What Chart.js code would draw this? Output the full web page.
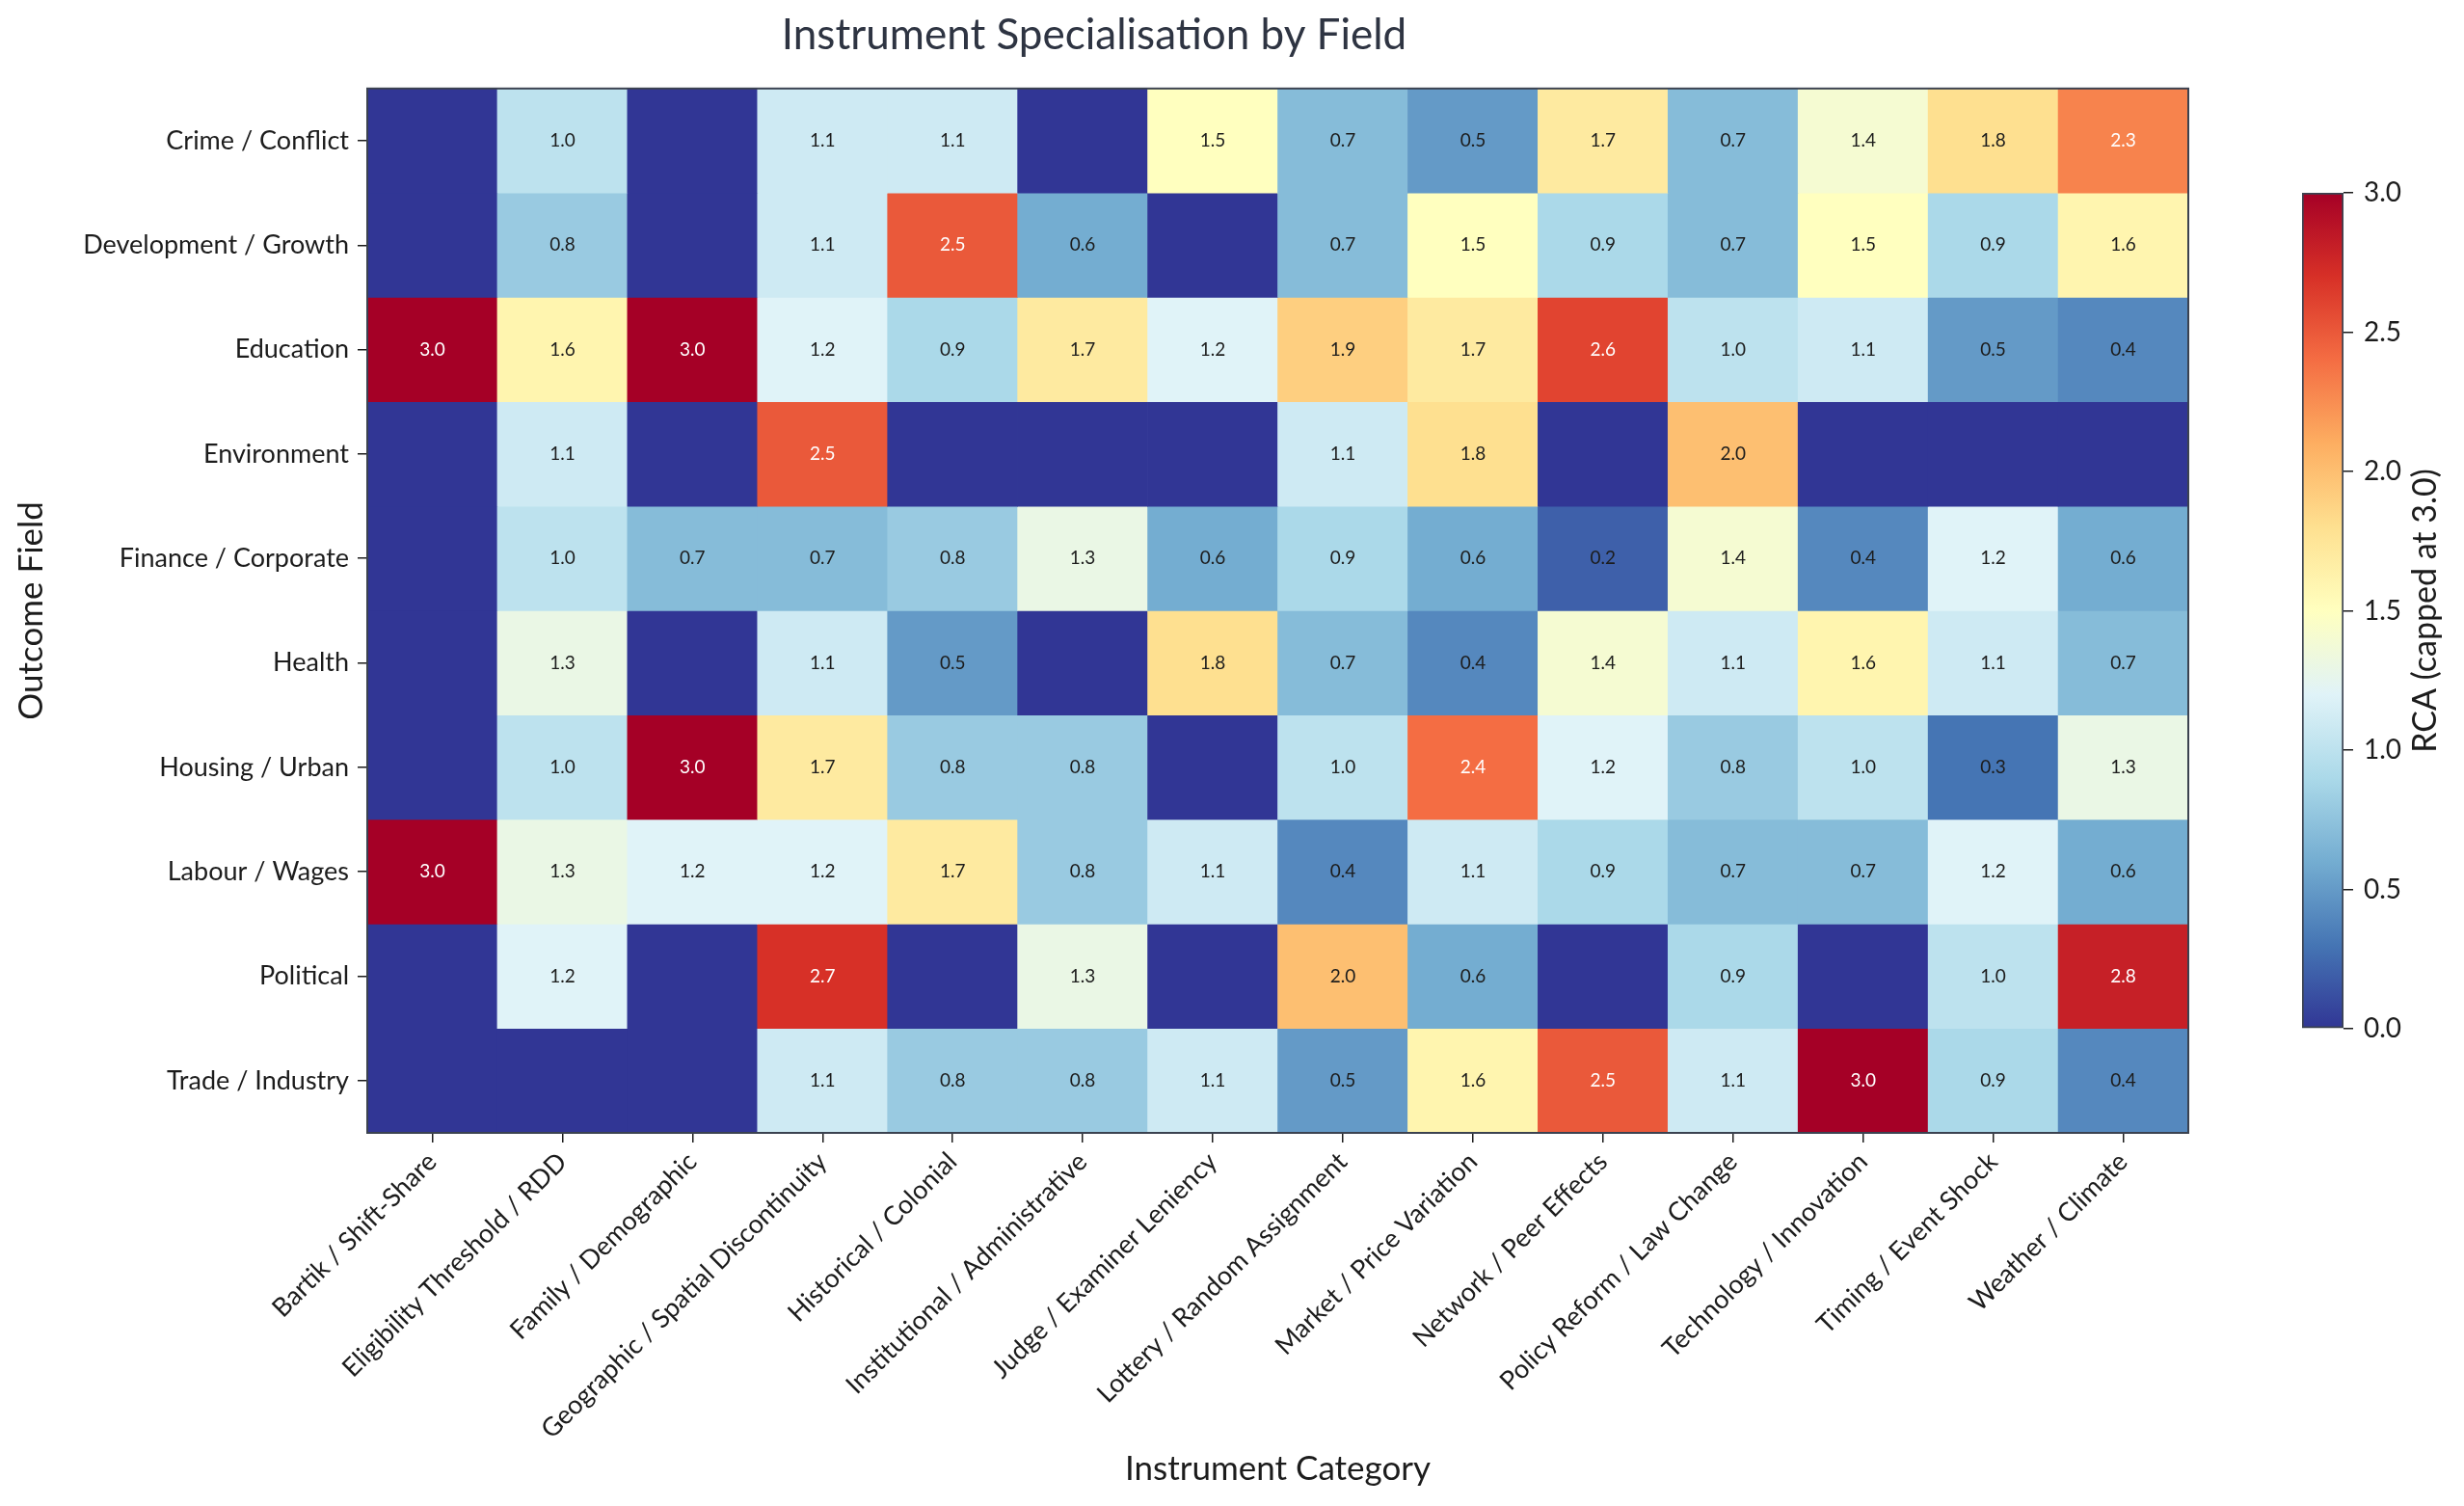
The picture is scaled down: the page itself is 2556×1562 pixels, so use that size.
<!DOCTYPE html>
<html>
<head>
<meta charset="utf-8">
<title>Instrument Specialisation by Field</title>
<script src="https://cdn.jsdelivr.net/npm/chart.js@4.4.1/dist/chart.umd.min.js"></script>
<style>
  html, body { margin: 0; padding: 0; background: #fff; }
  #wrap { position: relative; width: 2556px; height: 1562px; }
  #heatmap { position: absolute; left: 0; top: 0; }
  #colorbar { position: absolute; left: 2330px; top: 150px; }
</style>
</head>
<body>
<div id="wrap">
  <canvas id="heatmap" width="2556" height="1562"></canvas>
  <canvas id="colorbar" width="226" height="970"></canvas>
</div>
<script>
// columns (x) and rows (y)
const instruments = [
  'Bartik / Shift-Share', 'Eligibility Threshold / RDD', 'Family / Demographic',
  'Geographic / Spatial Discontinuity', 'Historical / Colonial', 'Institutional / Administrative',
  'Judge / Examiner Leniency', 'Lottery / Random Assignment', 'Market / Price Variation',
  'Network / Peer Effects', 'Policy Reform / Law Change', 'Technology / Innovation',
  'Timing / Event Shock', 'Weather / Climate'
];
const fields = [
  'Crime / Conflict', 'Development / Growth', 'Education', 'Environment', 'Finance / Corporate',
  'Health', 'Housing / Urban', 'Labour / Wages', 'Political', 'Trade / Industry'
];

// RCA per field, one value per instrument (capped at 3.0, 0 = none)
const crimeConflict   = [0, 1.0, 0, 1.1, 1.1, 0, 1.5, 0.7, 0.5, 1.7, 0.7, 1.4, 1.8, 2.3];
const developmentGrowth = [0, 0.8, 0, 1.1, 2.5, 0.6, 0, 0.7, 1.5, 0.9, 0.7, 1.5, 0.9, 1.6];
const education       = [3.0, 1.6, 3.0, 1.2, 0.9, 1.7, 1.2, 1.9, 1.7, 2.6, 1.0, 1.1, 0.5, 0.4];
const environment     = [0, 1.1, 0, 2.5, 0, 0, 0, 1.1, 1.8, 0, 2.0, 0, 0, 0];
const financeCorporate = [0, 1.0, 0.7, 0.7, 0.8, 1.3, 0.6, 0.9, 0.6, 0.2, 1.4, 0.4, 1.2, 0.6];
const health          = [0, 1.3, 0, 1.1, 0.5, 0, 1.8, 0.7, 0.4, 1.4, 1.1, 1.6, 1.1, 0.7];
const housingUrban    = [0, 1.0, 3.0, 1.7, 0.8, 0.8, 0, 1.0, 2.4, 1.2, 0.8, 1.0, 0.3, 1.3];
const labourWages     = [3.0, 1.3, 1.2, 1.2, 1.7, 0.8, 1.1, 0.4, 1.1, 0.9, 0.7, 0.7, 1.2, 0.6];
const political       = [0, 1.2, 0, 2.7, 0, 1.3, 0, 2.0, 0.6, 0, 0.9, 0, 1.0, 2.8];
const tradeIndustry   = [0, 0, 0, 1.1, 0.8, 0.8, 1.1, 0.5, 1.6, 2.5, 1.1, 3.0, 0.9, 0.4];

const rcaRows = [crimeConflict, developmentGrowth, education, environment, financeCorporate,
                 health, housingUrban, labourWages, political, tradeIndustry];

const rcaMin = 0;
const rcaMax = 3;
const colorbarTicks = [0, 0.5, 1.0, 1.5, 2.0, 2.5, 3.0];

// RdYlBu reversed
const rdylbu = ['#313695', '#4575b4', '#74add1', '#abd9e9', '#e0f3f8', '#ffffbf',
                '#fee090', '#fdae61', '#f46d43', '#d73027', '#a50026'];

const FONT = 'Lato, "Open Sans", sans-serif';
const INK = '#1c1c1c';
const FRAME = '#3b4250';

function hexToRgb(h) {
  return [parseInt(h.slice(1, 3), 16), parseInt(h.slice(3, 5), 16), parseInt(h.slice(5, 7), 16)];
}

function cmap(v) {
  let t = Math.min(Math.max((v - rcaMin) / (rcaMax - rcaMin), 0), 1) * (rdylbu.length - 1);
  const i = Math.min(Math.floor(t), rdylbu.length - 2);
  const f = t - i;
  const a = hexToRgb(rdylbu[i]), b = hexToRgb(rdylbu[i + 1]);
  const c = a.map((x, k) => Math.round(x + (b[k] - x) * f));
  return 'rgb(' + c.join(',') + ')';
}

// values written into each cell
const cellLabels = {
  id: 'cellLabels',
  afterDatasetsDraw(chart) {
    const ctx = chart.ctx;
    ctx.save();
    ctx.font = '19px ' + FONT;
    ctx.textAlign = 'center';
    ctx.textBaseline = 'middle';
    chart.data.datasets.forEach((ds, r) => {
      const meta = chart.getDatasetMeta(r);
      meta.data.forEach((bar, c) => {
        const v = rcaRows[r][c];
        if (v <= 0) return;
        const p = bar.getProps(['x', 'y', 'base'], true);
        ctx.fillStyle = v > 2.2 ? '#ffffff' : INK;
        ctx.fillText(v.toFixed(1), p.x, (p.y + p.base) / 2);
      });
    });
    ctx.restore();
  }
};

const frame = {
  id: 'frame',
  afterDraw(chart) {
    const a = chart.chartArea;
    const ctx = chart.ctx;
    ctx.save();
    ctx.strokeStyle = FRAME;
    ctx.lineWidth = 2;
    ctx.strokeRect(a.left, a.top, a.right - a.left, a.bottom - a.top);
    ctx.restore();
  }
};

const heatDatasets = fields.map((f, r) => ({
  label: f,
  data: instruments.map(() => [r, r + 1]),
  backgroundColor: rcaRows[r].map(cmap),
  borderWidth: 0,
  barPercentage: 1,
  categoryPercentage: 1,
  grouped: false
}));

new Chart(document.getElementById('heatmap'), {
  type: 'bar',
  data: { labels: instruments, datasets: heatDatasets },
  options: {
    responsive: false,
    animation: false,
    layout: { padding: { left: 0, right: 286, top: 0, bottom: 17 } },
    plugins: {
      legend: { display: false },
      tooltip: { enabled: false },
      title: {
        display: true,
        text: 'Instrument Specialisation by Field',
        color: '#2e3442',
        font: { family: FONT, size: 44, weight: 'normal' },
        padding: { top: 10, bottom: 29 }
      }
    },
    scales: {
      x: {
        type: 'category',
        ticks: { color: INK, font: { family: FONT, size: 27 }, minRotation: 45, maxRotation: 45, autoSkip: false, padding: 4 },
        grid: { offset: false, drawOnChartArea: false, tickLength: 10, color: INK, lineWidth: 1.5 },
        border: { display: false },
        title: { display: true, text: 'Instrument Category', color: INK, font: { family: FONT, size: 35 }, padding: { top: 0, bottom: 0 } },
        afterFit(s) { s.height = 370; }
      },
      y: {
        type: 'linear',
        min: 0,
        max: fields.length,
        reverse: true,
        afterBuildTicks(s) { s.ticks = fields.map((f, i) => ({ value: i + 0.5 })); },
        ticks: { color: INK, font: { family: FONT, size: 27 }, autoSkip: false, padding: 9, callback: (v, i) => fields[i] },
        grid: { drawOnChartArea: false, tickLength: 10, color: INK, lineWidth: 1.5 },
        border: { display: false },
        title: { display: true, text: 'Outcome Field', color: INK, font: { family: FONT, size: 35 }, padding: { top: 12, bottom: 0 } },
        afterFit(s) { s.width = 381; }
      }
    }
  },
  plugins: [cellLabels, frame]
});

// colour bar
const cbTitle = {
  id: 'cbTitle',
  afterDraw(chart) {
    const a = chart.chartArea;
    const ctx = chart.ctx;
    ctx.save();
    ctx.translate(186, (a.top + a.bottom) / 2);
    ctx.rotate(-Math.PI / 2);
    ctx.font = '34px ' + FONT;
    ctx.fillStyle = INK;
    ctx.textAlign = 'center';
    ctx.textBaseline = 'middle';
    ctx.fillText('RCA (capped at 3.0)', 0, 0);
    ctx.restore();
  }
};

new Chart(document.getElementById('colorbar'), {
  type: 'bar',
  data: {
    labels: ['RCA'],
    datasets: [{
      data: [[rcaMin, rcaMax]],
      backgroundColor(c) {
        const a = c.chart.chartArea;
        if (!a) return rdylbu[0];
        const g = c.chart.ctx.createLinearGradient(0, a.bottom, 0, a.top);
        rdylbu.forEach((col, i) => g.addColorStop(i / (rdylbu.length - 1), col));
        return g;
      },
      borderColor: FRAME,
      borderWidth: 2,
      borderSkipped: false,
      barPercentage: 1,
      categoryPercentage: 1
    }]
  },
  options: {
    responsive: false,
    animation: false,
    layout: { padding: { left: 58, right: 0, top: 50, bottom: 53 } },
    plugins: { legend: { display: false }, tooltip: { enabled: false } },
    scales: {
      x: { display: false },
      y: {
        position: 'right',
        min: rcaMin,
        max: rcaMax,
        afterBuildTicks(s) { s.ticks = colorbarTicks.map(v => ({ value: v })); },
        ticks: { color: INK, font: { family: FONT, size: 28 }, padding: 11, callback: v => v.toFixed(1) },
        grid: { drawOnChartArea: false, tickLength: 10, color: INK, lineWidth: 1.5 },
        border: { display: false },
        afterFit(s) { s.width = 125; }
      }
    }
  },
  plugins: [cbTitle]
});
</script>
</body>
</html>
